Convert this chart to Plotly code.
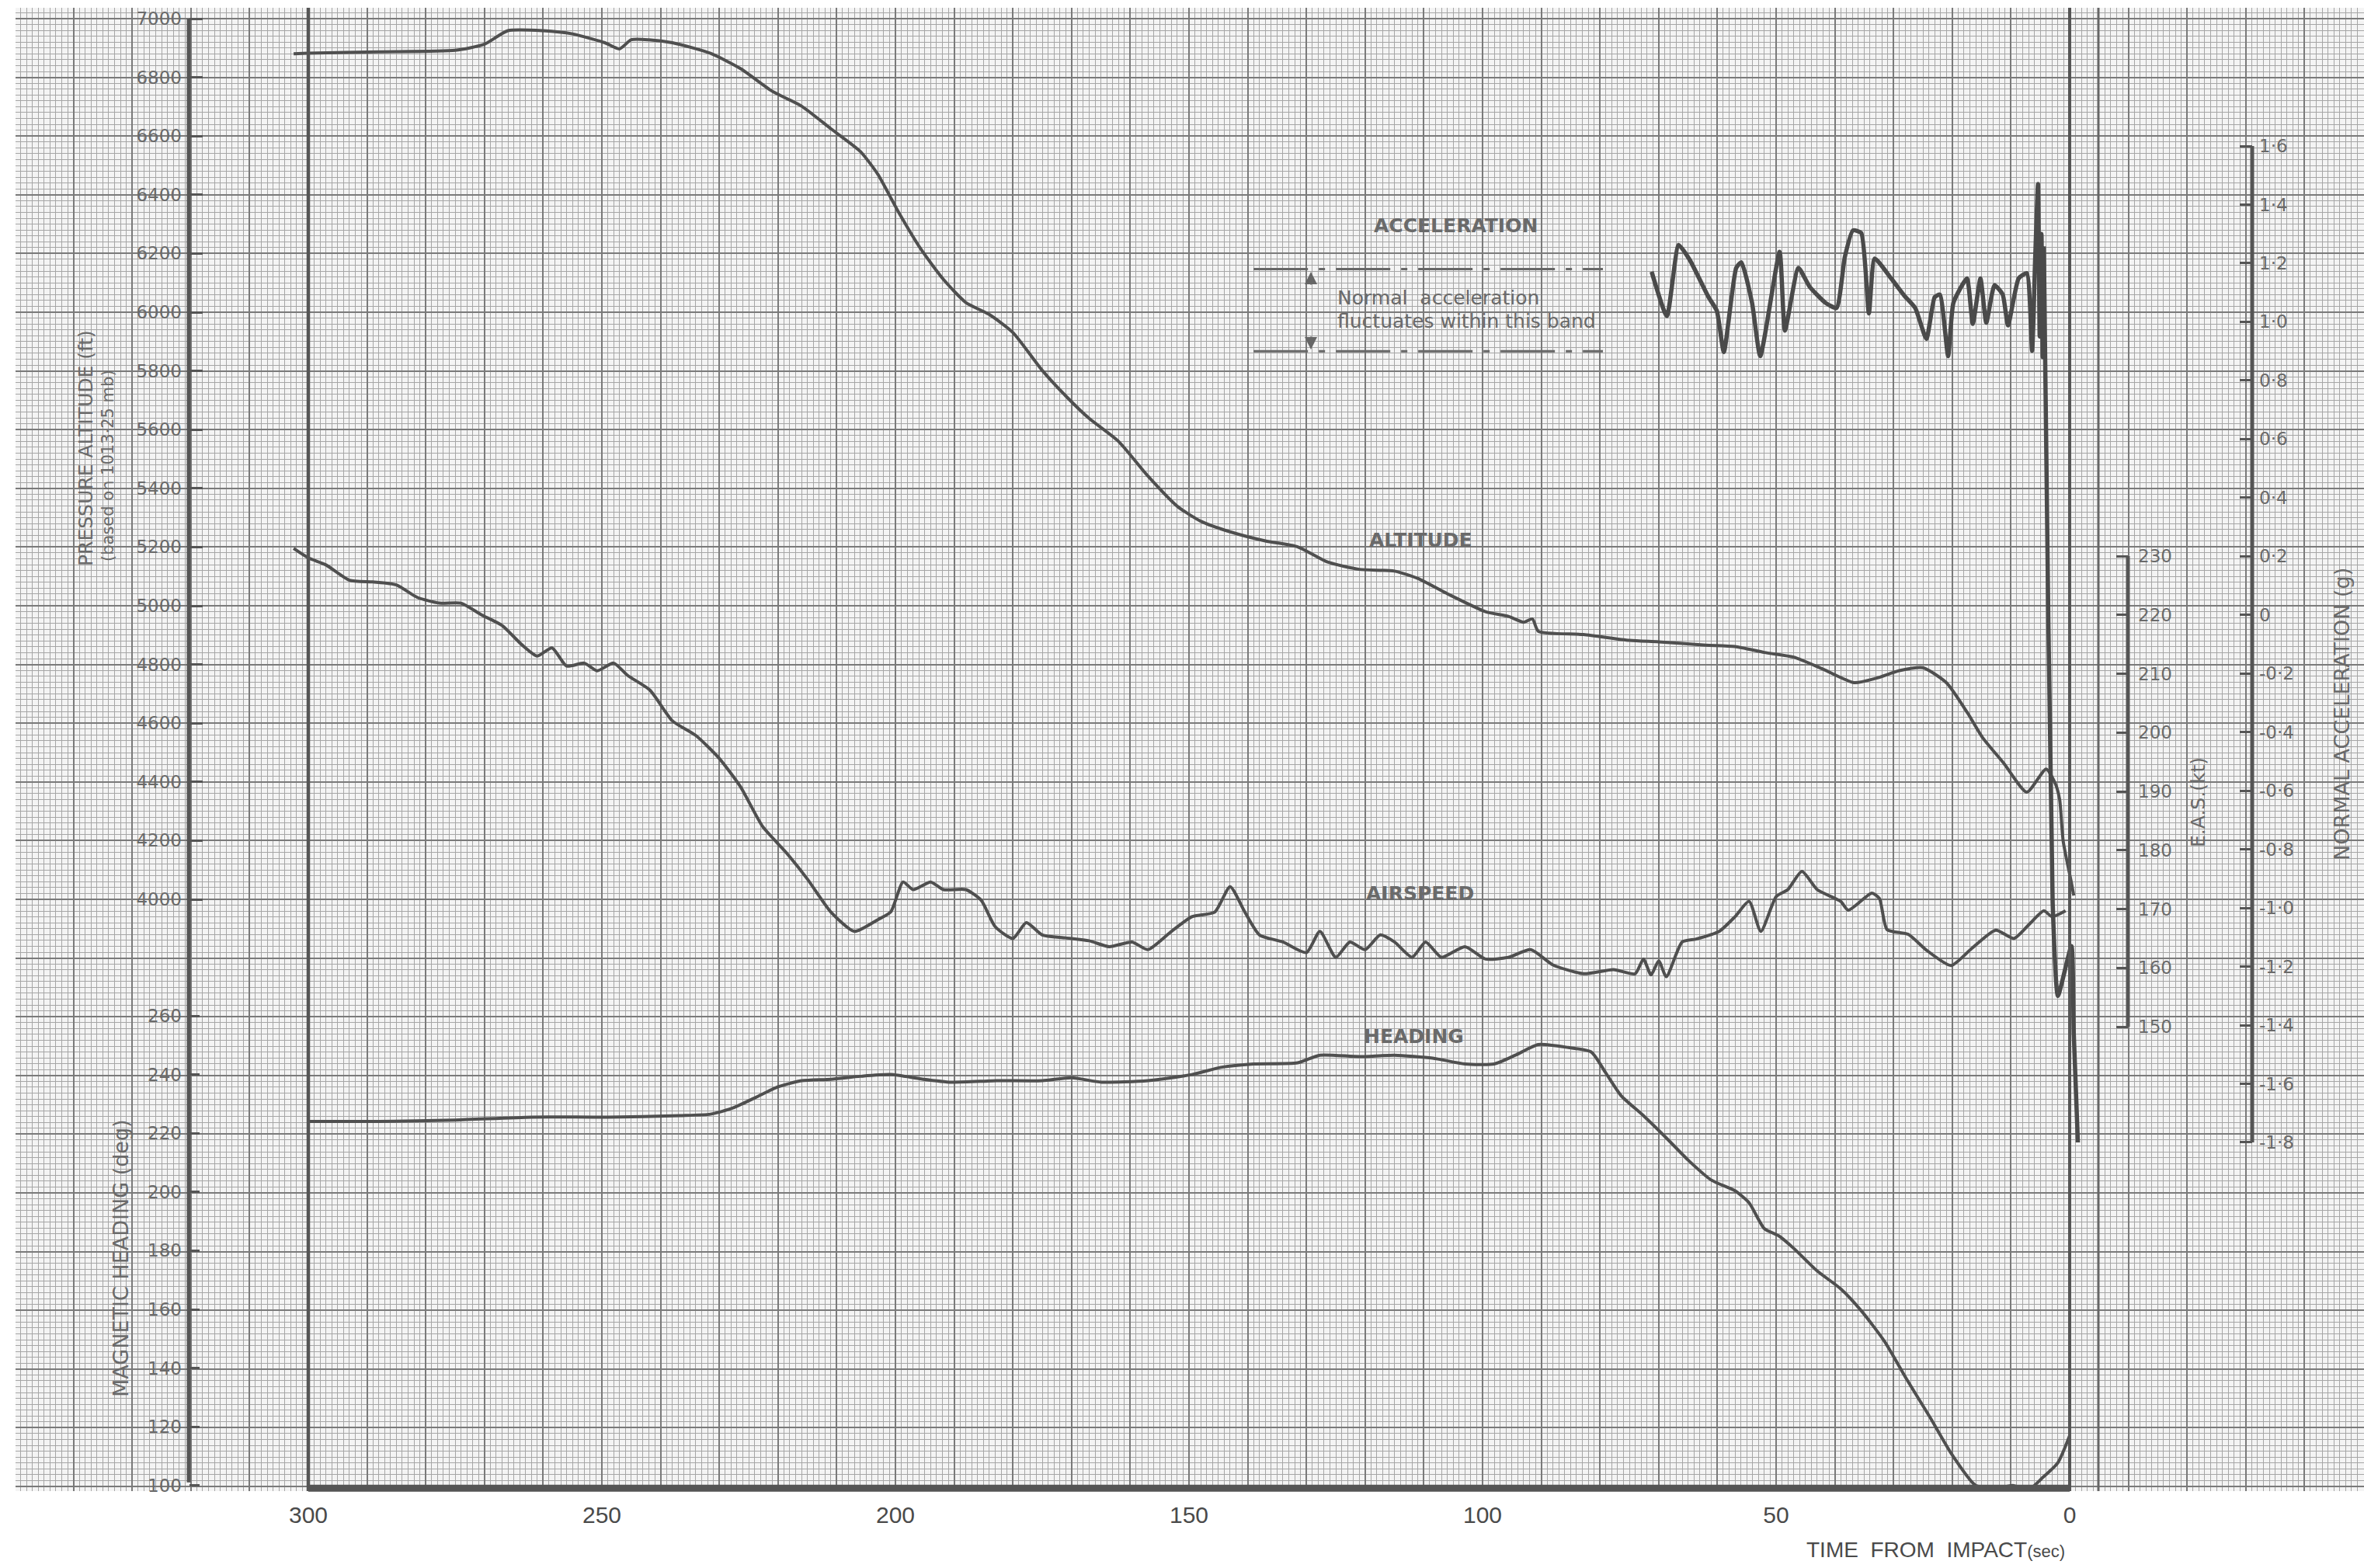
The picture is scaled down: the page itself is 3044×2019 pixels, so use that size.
import plotly.graph_objects as go

# ---------------- data ----------------
alt_t = [302.5, 300, 288, 275, 270, 266, 260, 255, 249.5, 247, 245, 242, 238, 231.5, 226.4, 221, 216, 211,
         206, 203, 199.5, 195.6, 191.8, 188, 184, 180, 175, 171, 167, 162, 157, 152, 148, 143, 137, 131.5,
         126.4, 121, 115, 111, 106, 99.5, 95.6, 93, 91.5, 90.5, 82.8, 75, 70, 62, 57, 52, 47, 42, 36.7, 33,
         29, 25, 21, 17.4, 14.8, 11.2, 7.3, 4.0, 2.4, 1.7, 1.1, -0.3, -0.7]
alt_ft = [6880, 6882, 6887, 6892, 6913, 6959, 6959, 6948, 6918, 6897, 6928, 6928, 6918, 6882, 6830, 6753, 6702,
          6625, 6548, 6470, 6342, 6213, 6111, 6033, 5992, 5931, 5802, 5715, 5638, 5560, 5442, 5339, 5288, 5252,
          5221, 5201, 5149, 5124, 5118, 5093, 5041, 4980, 4964, 4944, 4955, 4913, 4902, 4882, 4877, 4866, 4861,
          4841, 4825, 4784, 4738, 4753, 4779, 4789, 4738, 4635, 4550, 4463, 4365, 4444, 4392, 4339, 4198, 4056,
          4013]

eas_t = [302.5, 300, 297, 293, 289, 285, 281.5, 277.7, 274, 270.5, 267, 263.6, 261, 258.5, 256, 253, 250.8, 248,
         245.6, 241.8, 238, 234, 230, 226.4, 222.6, 218.7, 215, 211, 207, 203, 200.8, 198.7, 197, 194, 191.8,
         188, 185.4, 183, 180, 177.7, 175, 171, 167, 163.6, 159.7, 157, 153, 149.5, 145.6, 143, 140.5, 138,
         134, 130, 127.7, 125, 122.6, 120, 117.4, 115, 112, 109.7, 107, 103, 99.5, 95.6, 91.8, 88, 82.8, 77.7,
         74, 72.6, 71.3, 70, 68.7, 66, 63.6, 59.7, 57, 54.6, 52.6, 50, 48, 45.6, 43, 39, 37.7, 33.7, 32.4,
         31.1, 27.5, 24.5, 20.2, 16.9, 12.6, 9.5, 6.9, 4.4, 3.0, 0.7]
eas_kt = [231.3, 229.7, 228.5, 225.9, 225.6, 225.1, 223.0, 222.0, 222.0, 220.0, 218.2, 214.9, 213.0, 214.4, 211.3,
          211.8, 210.5, 211.8, 209.7, 207.2, 202.0, 199.5, 195.6, 190.8, 184.0, 179.7, 175.1, 169.5, 166.2, 168.2,
          169.5, 174.6, 173.3, 174.6, 173.3, 173.3, 171.5, 167.0, 165.0, 167.7, 165.6, 165.1, 164.6, 163.6, 164.4,
          163.1, 166.2, 168.7, 169.5, 173.8, 169.5, 165.6, 164.4, 162.6, 166.2, 161.8, 164.4, 163.1, 165.6, 164.4,
          161.8, 164.4, 161.8, 163.6, 161.5, 161.8, 163.1, 160.5, 159.0, 159.7, 159.0, 161.5, 158.8, 161.2, 158.5,
          164.4, 164.9, 166.2, 168.7, 171.3, 166.2, 172.1, 173.3, 176.4, 173.3, 171.3, 169.8, 172.7, 171.8, 166.5,
          165.7, 163.1, 160.4, 163.1, 166.4, 165.0, 167.4, 169.7, 168.7, 169.7]

hdg_t = [300, 288, 275, 262, 249, 236.7, 231.5, 227.7, 223.8, 220, 216, 211, 206, 200.8, 195.6, 190.5, 182.8,
         175, 170, 164.9, 157, 149.5, 144.4, 139, 131.5, 127.7, 121, 115, 108.5, 103, 98, 94.4, 90.5, 85.4,
         81.5, 79, 76.4, 72.6, 68.7, 64.9, 61, 57, 54.6, 52, 49.5, 47, 43, 39, 35.4, 31.5, 27.7, 23.8, 20, 16,
         12.3, 9.7, 7, 4.6, 2, 0]
hdg_deg = [224.0, 224.0, 224.5, 225.5, 225.5, 226.0, 226.5, 228.6, 232.2, 235.8, 237.9, 238.4, 239.4, 240.0,
           238.5, 237.4, 237.9, 237.9, 238.9, 237.4, 237.9, 240.0, 242.5, 243.6, 244.0, 246.6, 246.1, 246.6,
           245.6, 243.6, 243.6, 246.6, 250.2, 249.2, 247.7, 240.5, 232.8, 226.0, 218.4, 210.7, 204.0, 200.4,
           196.3, 187.5, 185.0, 180.8, 173.1, 167.0, 159.3, 149.0, 136.0, 123.3, 110.4, 100.0, 99.0, 100.0,
           98.6, 102.7, 107.8, 117.0]

acc_t = [71.2, 68.6, 66.6, 64.7, 61.5, 60.1, 58.9, 56.8, 55.9, 54.1, 52.7, 49.4, 48.5, 46.2, 44.3, 41.6, 39.7,
         38.3, 36.9, 35.5, 34.2, 33.2, 30.4, 28.1, 26.3, 24.4, 23.0, 22.1, 20.7, 19.8, 17.5, 16.5, 15.2, 14.2,
         12.8, 11.4, 10.5, 8.7, 7.3, 6.4, 5.9, 5.4, 5.1, 4.8, 4.6, 4.4, 4.2, 2.9, 2.0, -0.3, -0.7, -1.4]
acc_g = [1.171, 1.020, 1.262, 1.211, 1.084, 1.038, 0.897, 1.184, 1.203, 1.065, 0.883, 1.239, 0.970, 1.184, 1.120,
         1.065, 1.047, 1.221, 1.312, 1.303, 1.029, 1.216, 1.148, 1.088, 1.047, 0.942, 1.084, 1.093, 0.883, 1.065,
         1.148, 0.993, 1.148, 0.997, 1.125, 1.093, 0.988, 1.148, 1.166, 0.901, 1.20, 1.47, 0.95, 1.30, 0.88,
         1.25, 0.92, -0.98, -1.30, -1.13, -1.43, -1.80]

band_g = [1.18, 0.90]          # normal acceleration band limits
band_t = [139.0, 79.5]         # extent of the band markers (s)

time_labels = [300, 250, 200, 150, 100, 50, 0]
alt_ticks = list(range(4000, 7001, 200))
hdg_ticks = list(range(100, 261, 20))
eas_ticks = list(range(150, 231, 10))
acc_ticks = [1.6, 1.4, 1.2, 1.0, 0.8, 0.6, 0.4, 0.2, 0.0, -0.2, -0.4, -0.6, -0.8, -1.0, -1.2, -1.4, -1.6, -1.8]
acc_labels = ["1·6", "1·4", "1·2", "1·0", "0·8", "0·6", "0·4", "0·2", "0", "-0·2", "-0·4", "-0·6", "-0·8",
              "-1·0", "-1·2", "-1·4", "-1·6", "-1·8"]

# ---------------- layout geometry ----------------
W, H = 3044, 2019
L, R, T, B = 20, 0, 10, 99
PW, PH = W - L - R, H - T - B


def px(x):  # pixel -> paper x
    return (x - L) / PW


def py(y):  # pixel -> paper y
    return (H - B - y) / PH


INK = "#555555"
TXT = "#6a6a6a"
MAJ = "#7a7a7a"
MIN = "#a6a6a6"

ALT_RANGE = [7000 - (H - B - 24) / 0.378, 7000 + (24 - T) / 0.378]
HDG_RANGE = [260 - (H - B - 1308) / 3.78, 260 + (1308 - T) / 3.78]
EAS_RANGE = [230 - (H - B - 716) / 7.575, 230 + (716 - T) / 7.575]
ACC_RANGE = [1.6 - (H - B - 188) / 377.35, 1.6 + (188 - T) / 377.35]

fig = go.Figure()

line_kw = dict(color="#4f4f4f", width=4, shape="spline", smoothing=0.6)
# altitude drawn on its labelled scale (y2); the base grid axis (y) carries the same series invisibly
fig.add_trace(go.Scatter(x=alt_t, y=alt_ft, yaxis="y", mode="lines", line=dict(width=0), opacity=0,
                         hoverinfo="skip", name="grid"))
fig.add_trace(go.Scatter(x=alt_t, y=alt_ft, yaxis="y2", mode="lines", line=line_kw, name="Altitude"))
fig.add_trace(go.Scatter(x=eas_t, y=eas_kt, yaxis="y4", mode="lines", line=line_kw, name="Airspeed"))
fig.add_trace(go.Scatter(x=hdg_t, y=hdg_deg, yaxis="y3", mode="lines", line=line_kw, name="Heading"))
fig.add_trace(go.Scatter(x=acc_t, y=acc_g, yaxis="y5", mode="lines",
                         line=dict(color="#4a4a4a", width=5.5, shape="spline", smoothing=0.5),
                         name="Acceleration"))
for g in band_g:
    fig.add_trace(go.Scatter(x=band_t, y=[g, g], yaxis="y5", mode="lines",
                             line=dict(color="#666666", width=3, dash="70px,14px,8px,14px"),
                             hoverinfo="skip"))

xticks = list(range(-50, 351, 10))


def free_axis(pos, side, rng, vals, texts, ticklen, standoff, size=23):
    return dict(overlaying="y", anchor="free", position=pos, side=side, range=rng, type="linear",
                tickmode="array", tickvals=vals, ticktext=texts, ticks="inside", ticklen=ticklen,
                tickwidth=3, tickcolor=INK, showline=False, showgrid=False, zeroline=False,
                automargin=False, ticklabelstandoff=standoff,
                tickfont=dict(family="DejaVu Sans", size=size, color=TXT))


fig.update_layout(
    width=W, height=H, showlegend=False,
    margin=dict(l=L, r=R, t=T, b=B, pad=0),
    paper_bgcolor="white", plot_bgcolor="rgba(0,0,0,0)",
    xaxis=dict(range=[(2665 - L) / 7.56, (2665 - W) / 7.56], type="linear", tickmode="array",
               tickvals=xticks, ticktext=[str(v) if v in time_labels else "" for v in xticks],
               showgrid=True, gridcolor=MAJ, gridwidth=2.2, zeroline=False, showline=False, ticks="",
               minor=dict(tick0=0, dtick=1, showgrid=True, gridcolor=MIN, gridwidth=1.2),
               tickfont=dict(family="Liberation Sans Narrow, Liberation Sans", size=30, color="#4a4a4a"),
               ticklabelstandoff=10, automargin=False),
    yaxis=dict(range=ALT_RANGE, type="linear", tickmode="linear", tick0=0, dtick=200,
               showticklabels=False, ticks="", showgrid=True, gridcolor=MAJ, gridwidth=2.2, zeroline=False,
               minor=dict(tick0=0, dtick=20, showgrid=True, gridcolor=MIN, gridwidth=1.2), automargin=False),
    yaxis2=free_axis(px(243), "left", ALT_RANGE, alt_ticks, [str(v) for v in alt_ticks], 17, 9),
    yaxis3=free_axis(px(243), "left", HDG_RANGE, hdg_ticks, [str(v) for v in hdg_ticks], 13, 9),
    yaxis4=free_axis(px(2740), "right", EAS_RANGE, eas_ticks, [str(v) for v in eas_ticks], 15, 12),
    yaxis5=free_axis(px(2900), "right", ACC_RANGE, acc_ticks, acc_labels, 16, 8),
)

shapes = [
    # paper tint of the plotting area (under the grid)
    dict(type="rect", xref="paper", yref="paper", x0=0, x1=1, y0=0, y1=1, layer="below",
         fillcolor="#f4f4f4", line=dict(width=0)),
    # heavy frame lines of the record
    dict(type="line", xref="x", yref="paper", x0=300, x1=300, y0=0, y1=1, line=dict(color=INK, width=4.5)),
    dict(type="line", xref="x", yref="paper", x0=0, x1=0, y0=0, y1=1, line=dict(color=INK, width=4)),
    dict(type="line", xref="paper", yref="paper", x0=px(2702), x1=px(2702), y0=0, y1=1,
         line=dict(color="#666666", width=3)),
    dict(type="line", xref="x", yref="paper", x0=300, x1=0, y0=0.002, y1=0.002, line=dict(color=INK, width=9)),
    # left axis line (altitude / heading)
    dict(type="line", xref="paper", yref="y", x0=px(243), x1=px(243), y0=ALT_RANGE[0] + 30, y1=7000,
         line=dict(color=INK, width=5)),
    # right-hand axis lines
    dict(type="line", xref="paper", yref="y4", x0=px(2740), x1=px(2740), y0=150, y1=230,
         line=dict(color=INK, width=5)),
    dict(type="line", xref="paper", yref="y5", x0=px(2900), x1=px(2900), y0=-1.8, y1=1.6,
         line=dict(color=INK, width=5)),
]
fig.update_layout(shapes=shapes)

ann = []


def text(x, y, s, size, angle=0, xanchor="center", family="DejaVu Sans", color=TXT):
    ann.append(dict(x=px(x), y=py(y), xref="paper", yref="paper", text=s, showarrow=False,
                    textangle=angle, xanchor=xanchor, yanchor="middle",
                    font=dict(family=family, size=size, color=color)))


text(1874, 291, "<b>ACCELERATION</b>", 25)
text(1720, 383, "Normal  acceleration", 25, xanchor="left")
text(1720, 413, "fluctuates within this band", 25, xanchor="left")
text(1829, 695, "<b>ALTITUDE</b>", 25)
text(1828, 1150, "<b>AIRSPEED</b>", 25)
text(1820, 1334, "<b>HEADING</b>", 25)
text(110, 577, "PRESSURE ALTITUDE (ft)", 25, angle=-90)
text(139, 600, "(based on 1013·25 mb)", 21, angle=-90)
text(155, 1620, "MAGNETIC HEADING (deg)", 27, angle=-90)
text(2830, 1033, "E.A.S.(kt)", 25, angle=-90)
text(3015, 920, "NORMAL ACCELERATION (g)", 27, angle=-90)
text(2492, 1996, "TIME  FROM  IMPACT<span style='font-size:22px'>(sec)</span>", 28,
     family="Liberation Sans Narrow, Liberation Sans", color="#4a4a4a")

# band arrows
ann.append(dict(x=px(1688), y=py(350), xref="paper", yref="paper", ax=0, ay=18, showarrow=True,
                arrowhead=2, arrowsize=1.6, arrowwidth=2, arrowcolor="#666666", text=""))
ann.append(dict(x=px(1688), y=py(450), xref="paper", yref="paper", ax=0, ay=-18, showarrow=True,
                arrowhead=2, arrowsize=1.6, arrowwidth=2, arrowcolor="#666666", text=""))
fig.update_layout(annotations=ann)

fig.write_html("out.html")
